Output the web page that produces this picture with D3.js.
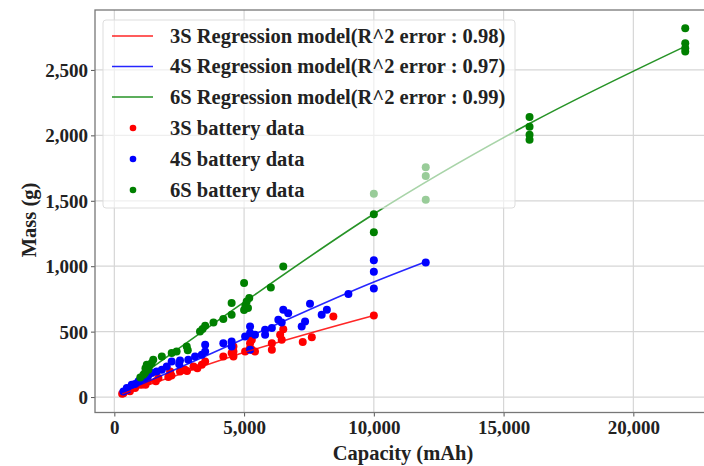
<!DOCTYPE html>
<html>
<head>
<meta charset="utf-8">
<script src="https://cdn.jsdelivr.net/npm/d3@7"></script>
<style>
  body { margin: 0; background: #fff; }
  text { font-family: 'Liberation Serif', 'DejaVu Serif', serif; font-weight: bold; fill: #222; }
</style>
</head>
<body>
<div id="graf"></div>
<script>
// datos: [capacidad mAh, masa g]
bat3S = [[300,25],[350,30],[540,56],[600,45],[800,69],[1050,94],[1200,95],[1300,120],[1600,120],[1700,145],
  [2080,153],[2150,196],[2200,165],[2530,196],[2720,209],[2800,200],[3050,234],[3200,220],[3370,247],[3500,272],
  [4200,310],[4520,336],[4590,310],[4590,348],[4590,387],[5040,348],[5230,374],[5230,412],[5300,361],[5300,438],
  [5420,348],[6070,361],[6070,412],[6390,476],[6450,438],[6510,519],[7260,420],[7610,458],[8440,616],[10000,624]]

bat4S = [[350,43],[480,69],[500,55],[670,94],[800,100],[930,120],[1000,130],[1180,145],[1300,160],[1440,183],
  [1630,196],[1830,209],[2020,234],[2210,272],[2500,250],[2530,280],[2850,285],[3110,310],[3370,323],[3500,348],
  [3500,399],[4200,412],[4520,387],[4520,425],[5040,463],[5230,361],[5230,489],[5230,540],[5420,476],[5810,476],
  [5810,514],[6070,527],[6320,590],[6450,570],[6510,667],[6700,641],[7220,540],[7350,578],[7540,713],[7990,629],
  [8190,667],[9020,787],[10000,830],[10000,957],[10000,1046],[12000,1028]]

bat6S = [[1000,150],[1120,170],[1180,183],[1200,220],[1250,247],[1310,209],[1350,240],[1440,260],[1500,285],[1830,310],
  [2210,336],[2400,349],[2790,387],[2830,357],[3300,501],[3400,520],[3500,545],[3820,570],[4200,596],[4520,629],
  [4520,718],[5000,666],[5000,871],[5050,700],[5100,730],[5150,680],[5200,757],[6030,837],[6510,998],[10000,1260],
  [10000,1398],[10000,1553],[12000,1507],[12000,1690],[12000,1757],[16000,1966],[16000,2004],[16000,2065],[16000,2141],
  [22000,2640],[22000,2666],[22000,2704],[22000,2819]]

// curvas de regresion
line3S = [[300,25],[2000,140],[5000,340],[10000,624]]
line4S = [[300,35],[2000,180],[5000,445],[10000,880],[12000,1035]]
line6S = [[1000,160],[5000,725],[10000,1399],[16000,2090],[22000,2680]]

xTicks = [0, 5000, 10000, 15000, 20000]
yTicks = [0, 500, 1000, 1500, 2000, 2500]

series = [
  { name: '3S', r2: '0.98', pts: bat3S, line: line3S, color: '#ff0000' },
  { name: '4S', r2: '0.97', pts: bat4S, line: line4S, color: '#0000ff' },
  { name: '6S', r2: '0.99', pts: bat6S, line: line6S, color: '#008000' }
]

// I. Configuracion
ancho_total = 704
alto_total = 466

svg = d3.select('#graf').append('svg')
  .attr('width', ancho_total)
  .attr('height', alto_total)

x = d3.scaleLinear().domain([-745, 23085]).range([95, 713.4])
y = d3.scaleLinear().domain([-118, 2958]).range([412.5, 10])

fmt = d3.format(',')

// rejilla
svg.append('g').selectAll('line').data(xTicks).join('line')
  .attr('x1', d => x(d)).attr('x2', d => x(d))
  .attr('y1', y.range()[0]).attr('y2', y.range()[1])
  .attr('stroke', '#d6d6d6').attr('stroke-width', 1.2)
svg.append('g').selectAll('line').data(yTicks).join('line')
  .attr('x1', x.range()[0]).attr('x2', x.range()[1])
  .attr('y1', d => y(d)).attr('y2', d => y(d))
  .attr('stroke', '#d6d6d6').attr('stroke-width', 1.2)

// ejes
xAxis = svg.append('g')
  .attr('transform', `translate(0, ${y.range()[0]})`)
  .call(d3.axisBottom(x).tickValues(xTicks).tickFormat(fmt).tickSize(4).tickSizeOuter(0))
yAxis = svg.append('g')
  .attr('transform', `translate(${x.range()[0]}, 0)`)
  .call(d3.axisLeft(y).tickValues(yTicks).tickFormat(fmt).tickSize(4).tickSizeOuter(0))

;[xAxis, yAxis].forEach(a => {
  a.select('.domain').remove()
  a.selectAll('.tick line').attr('stroke', '#555').attr('stroke-width', 1)
  a.selectAll('.tick text').style('font-size', '19px').attr('fill', '#222')
})
xAxis.selectAll('.tick text').attr('dy', '0.74em')
yAxis.selectAll('.tick text').attr('x', -7).attr('dy', '0.34em')

// puntos
series.forEach(s => {
  svg.append('g').selectAll('circle').data(s.pts).join('circle')
    .attr('cx', d => x(d[0]))
    .attr('cy', d => y(d[1]))
    .attr('r', 4)
    .attr('fill', s.color)
})

// lineas de regresion
linea = d3.line().x(d => x(d[0])).y(d => y(d[1])).curve(d3.curveMonotoneX)
series.forEach(s => {
  svg.append('path').datum(s.line)
    .attr('d', linea)
    .attr('fill', 'none')
    .attr('stroke', s.color)
    .attr('stroke-width', 1.6)
    .attr('opacity', 0.85)
})

// marco
svg.append('rect')
  .attr('x', x.range()[0]).attr('y', y.range()[1])
  .attr('width', x.range()[1] - x.range()[0])
  .attr('height', y.range()[0] - y.range()[1])
  .attr('fill', 'none').attr('stroke', '#777').attr('stroke-width', 1.3)

// leyenda
leg = svg.append('g')
leg.append('rect')
  .attr('x', 103).attr('y', 20).attr('width', 412).attr('height', 188)
  .attr('rx', 3)
  .attr('fill', '#fff').attr('fill-opacity', 0.6)
  .attr('stroke', '#ddd')

series.forEach((s, i) => {
  ly = 36 + i * 30.5
  leg.append('line')
    .attr('x1', 112).attr('x2', 153).attr('y1', ly).attr('y2', ly)
    .attr('stroke', s.color).attr('stroke-width', 1.6).attr('opacity', 0.85)
  leg.append('text')
    .attr('x', 170).attr('y', ly).attr('dy', '0.34em')
    .style('font-size', '20.5px')
    .text(`${s.name} Regression model(R^2 error : ${s.r2})`)
})
series.forEach((s, i) => {
  ly = 128 + i * 31
  leg.append('circle')
    .attr('cx', 133).attr('cy', ly).attr('r', 3.3).attr('fill', s.color)
  leg.append('text')
    .attr('x', 170).attr('y', ly).attr('dy', '0.34em')
    .style('font-size', '20.5px')
    .text(`${s.name} battery data`)
})

// titulos de ejes
svg.append('text')
  .attr('x', 403).attr('y', 460)
  .attr('text-anchor', 'middle')
  .style('font-size', '20.5px')
  .text('Capacity (mAh)')
svg.append('text')
  .attr('transform', `translate(36, 220) rotate(-90)`)
  .attr('text-anchor', 'middle')
  .style('font-size', '20.5px')
  .text('Mass (g)')
</script>
</body>
</html>
